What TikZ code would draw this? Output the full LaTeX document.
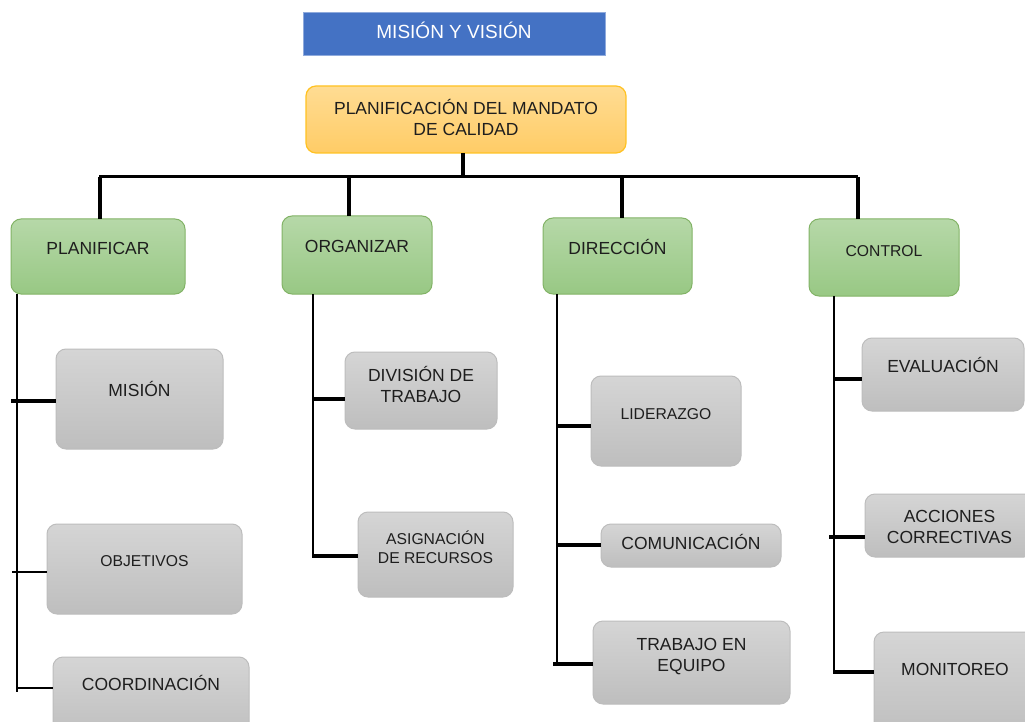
\documentclass[tikz,border=0pt]{standalone}
\usepackage{fontspec}
\setmainfont{Liberation Sans}
\begin{document}
\definecolor{titleblue}{HTML}{4472C4}
\definecolor{titleedge}{HTML}{8FAADC}
\definecolor{yeltop}{HTML}{FFDC93}
\definecolor{yelbot}{HTML}{FFCC66}
\definecolor{yeledge}{HTML}{FFC222}
\definecolor{grntop}{HTML}{B6D8A8}
\definecolor{grnbot}{HTML}{98C884}
\definecolor{grnedge}{HTML}{82B366}
\definecolor{grytop}{HTML}{D5D5D5}
\definecolor{grybot}{HTML}{BEBEBE}
\definecolor{gryedge}{HTML}{BDBDBD}
\definecolor{ink}{HTML}{1E1E1E}
% box from (x1,y1) to (x2,y2), pixel-style coordinates, y growing downward
\newcommand\mkbox[6]{%
  \node[#1, minimum width={(#5-#3)*1pt}, minimum height={(#6-#4)*1pt}]
    (#2) at ({(#3+#5)/2},{(#4+#6)/2}) {};}
% link from a point on a trunk to the west side of a box
\newcommand\mklink[4]{\draw[#4] (#2,#3) -- (#1.west |- #2,#3);}
\begin{tikzpicture}[x=1pt,y=-1pt,
  base/.style={inner sep=0pt, outer sep=0pt, rounded corners=10pt, line width=1pt},
  titlebox/.style={base, rounded corners=0pt, fill=titleblue, draw=titleedge},
  rootbox/.style={base, top color=yeltop, bottom color=yelbot, draw=yeledge, line width=1.2pt},
  areabox/.style={base, top color=grntop, bottom color=grnbot, draw=grnedge},
  itembox/.style={base, top color=grytop, bottom color=grybot, draw=gryedge},
  lbl/.style={inner sep=0pt, align=center, text=ink, text height=0.72em, text depth=0pt,
    yshift=-3pt, font=\fontsize{17.5}{21}\selectfont},
  lblsmall/.style={lbl, font=\fontsize{15.7}{19}\selectfont},
  twoline/.style={yshift=-10pt},
  bar/.style={line width=3pt, black},
  drop/.style={line width=4pt, black},
  trunk/.style={line width=1.8pt, black},
  conn/.style={line width=3.6pt, black},
  thinconn/.style={line width=1.8pt, black}]
\useasboundingbox (0,0) rectangle (1025,722);
\clip (0,0) rectangle (1025,722);
\fill[white] (0,0) rectangle (1025,722);

% title and root
\mkbox{titlebox}{title}{303}{13}{605}{56}
\node[lbl, text=white, font=\fontsize{19}{23}\selectfont] (titleT) at (title.center |- 0,32) {MISIÓN Y VISIÓN};
\mkbox{rootbox}{root}{306}{86}{626}{153}
\node[lbl, twoline] (rootT) at (root.center |- 0,119) {PLANIFICACIÓN DEL MANDATO\\DE CALIDAD};

% four areas
\mkbox{areabox}{plan}{11}{219}{185}{294}
\mkbox{areabox}{org}{282}{216}{432}{294}
\mkbox{areabox}{dir}{543}{218}{692}{294}
\mkbox{areabox}{ctrl}{809}{219}{959}{296}
\node[lbl] (planT) at (plan.center |- 0,248) {PLANIFICAR};
\node[lbl] (orgT) at (org.center |- 0,246) {ORGANIZAR};
\node[lbl] (dirT) at (dir.center |- 0,248) {DIRECCIÓN};
\node[lblsmall] (ctrlT) at (ctrl.center |- 0,250) {CONTROL};

% root connectors
\coordinate (barL) at (99,177);
\coordinate (barR) at (858,177);
\draw[drop] (root.south -| 463,0) -- (463,177);
\draw[bar] (barL) -- (barR);
\draw[drop] (100,177) -- (plan.north -| 100,0);
\draw[drop] (349,177) -- (org.north -| 349,0);
\draw[drop] (622,177) -- (dir.north -| 622,0);
\draw[drop] (858,177) -- (ctrl.north -| 858,0);

% PLANIFICAR items
\mkbox{itembox}{mision}{56}{349}{223}{449}
\mkbox{itembox}{obj}{47}{524}{242}{614}
\mkbox{itembox}{coord}{53}{657}{249}{740}
\node[lbl] (misionT) at (mision.center |- 0,390) {MISIÓN};
\node[lblsmall] (objT) at (obj.center |- 0,560) {OBJETIVOS};
\node[lbl] (coordT) at (coord.center |- 0,684) {COORDINACIÓN};
\coordinate (planEnd) at (17,692);
\draw[trunk] (planEnd |- plan.south) -- (planEnd);
\mklink{mision}{11}{401}{conn}
\mklink{obj}{12}{572}{thinconn}
\mklink{coord}{17}{688}{thinconn}

% ORGANIZAR items
\mkbox{itembox}{div}{345}{352}{497}{429}
\mkbox{itembox}{asig}{358}{512}{513}{597}
\node[lbl, twoline] (divT) at (div.center |- 0,385.5) {DIVISIÓN DE\\TRABAJO};
\node[lblsmall, twoline] (asigT) at (asig.center |- 0,546.5) {ASIGNACIÓN\\DE RECURSOS};
\coordinate (orgEnd) at (313,556);
\draw[trunk] (orgEnd |- org.south) -- (orgEnd);
\mklink{div}{312}{399}{conn}
\mklink{asig}{312}{556}{conn}

% DIRECCIÓN items
\mkbox{itembox}{lid}{591}{376}{741}{466}
\mkbox{itembox}{com}{601}{524}{781}{567}
\mkbox{itembox}{team}{593}{621}{790}{704}
\node[lblsmall] (lidT) at (lid.center |- 0,413) {LIDERAZGO};
\node[lbl] (comT) at (com.center |- 0,543) {COMUNICACIÓN};
\node[lbl, twoline] (teamT) at (team.center |- 0,654.5) {TRABAJO EN\\EQUIPO};
\coordinate (dirEnd) at (557,665);
\draw[trunk] (dirEnd |- dir.south) -- (dirEnd);
\mklink{lid}{558}{426}{conn}
\mklink{com}{557}{545}{conn}
\mklink{team}{553}{664}{conn}

% CONTROL items
\mkbox{itembox}{eval}{862}{338}{1024}{411}
\mkbox{itembox}{acc}{865}{494}{1034}{557}
\mkbox{itembox}{moni}{874}{632}{1036}{740}
\node[lbl] (evalT) at (eval.center |- 0,366) {EVALUACIÓN};
\node[lbl, twoline] (accT) at (acc.center |- 0,526.5) {ACCIONES\\CORRECTIVAS};
\node[lbl] (moniT) at (moni.center |- 0,669) {MONITOREO};
\coordinate (ctrlEnd) at (834,670);
\draw[trunk] (ctrlEnd |- ctrl.south) -- (ctrlEnd);
\mklink{eval}{835}{379}{conn}
\mklink{acc}{829}{537}{conn}
\mklink{moni}{833}{672}{conn}
\end{tikzpicture}
\end{document}
